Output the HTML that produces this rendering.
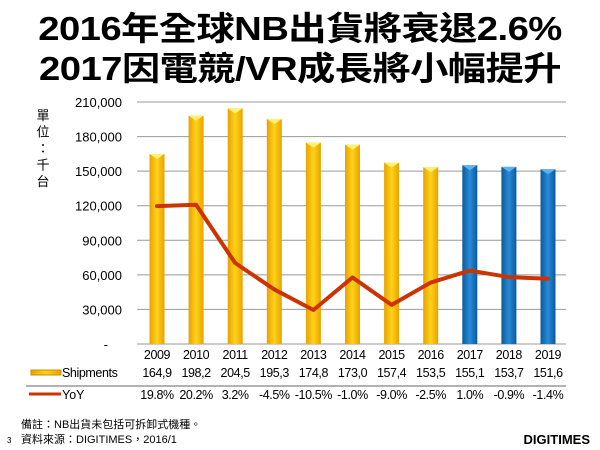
<!DOCTYPE html>
<html><head><meta charset="utf-8"><style>
body{margin:0;width:600px;height:450px;background:#fff;overflow:hidden;font-family:"Liberation Sans","Noto Sans CJK TC",sans-serif}
.t{position:absolute;left:0;width:600px;text-align:center;font-weight:bold;font-size:33px;color:#000;letter-spacing:-0.5px;transform:scaleX(1.16);transform-origin:300px 0}
</style></head><body>
<div class="t" style="top:2px">2016年全球NB出貨將衰退2.6%</div>
<div class="t" style="top:42px">2017因電競/VR成長將小幅提升</div>
<svg id="c" width="600" height="450" style="position:absolute;left:0;top:0" font-family="Liberation Sans, Noto Sans CJK TC, sans-serif"></svg>
<script>
const years=["2009","2010","2011","2012","2013","2014","2015","2016","2017","2018","2019"];
const shipments=[164.9,198.2,204.5,195.3,174.8,173.0,157.4,153.5,155.1,153.7,151.6];
const shipLabels=["164,9","198,2","204,5","195,3","174,8","173,0","157,4","153,5","155,1","153,7","151,6"];
const yoy=[19.8,20.2,3.2,-4.5,-10.5,-1.0,-9.0,-2.5,1.0,-0.9,-1.4];
const yoyLabels=["19.8%","20.2%","3.2%","-4.5%","-10.5%","-1.0%","-9.0%","-2.5%","1.0%","-0.9%","-1.4%"];
const yTicks=[0,30000,60000,90000,120000,150000,180000,210000];
const yTickLabels=["-","30,000","60,000","90,000","120,000","150,000","180,000","210,000"];
const forecastFrom=8;
const svg=document.getElementById('c');const NS='http://www.w3.org/2000/svg';
function mk(t,a,p){const e=document.createElementNS(NS,t);for(const k in a)e.setAttribute(k,a[k]);(p||svg).appendChild(e);return e;}
const x=i=>157+i*39.1;
const y=v=>344-v/210000*242;
const y2=p=>274-p*3.43;
const defs=mk('defs',{});
const g1=mk('linearGradient',{id:'gy'},defs);mk('stop',{offset:'0','stop-color':'#e8a200'},g1);mk('stop',{offset:'0.5','stop-color':'#ffd21a'},g1);mk('stop',{offset:'1','stop-color':'#e8a200'},g1);
const g2=mk('linearGradient',{id:'gb'},defs);mk('stop',{offset:'0','stop-color':'#0a5a9c'},g2);mk('stop',{offset:'0.5','stop-color':'#2a8ad6'},g2);mk('stop',{offset:'1','stop-color':'#0a5a9c'},g2);
yTicks.forEach((v,i)=>{
 if(v>0){const l=mk('line',{x1:137,x2:566,y1:y(v),y2:y(v),stroke:'#999','stroke-width':1});
 
 }
 const t=mk('text',{x:i==0?108:122,y:y(v)+5,'text-anchor':'end','font-size':13});t.textContent=yTickLabels[i];
 
 
});
mk('line',{x1:137,x2:566,y1:344,y2:344,stroke:'#999'});
const ut=mk('text',{x:43,y:118,'font-size':13,'text-anchor':'middle'});


["單","位","：","千","台"].forEach((c,i)=>{const s=mk('tspan',{x:43,y:120+i*16.5},ut);s.textContent=c;});
shipments.forEach((v,i)=>{
 const b=mk('rect',{x:x(i)-7.5,y:y(v*1000),width:15,height:344-y(v*1000),fill:i>=forecastFrom?'url(#gb)':'url(#gy)'});
 
 
 mk('polygon',{points:`${x(i)-7.5},${y(v*1000)} ${x(i)+7.5},${y(v*1000)} ${x(i)},${y(v*1000)+5}`,fill:i>=forecastFrom?'#5fb0f0':'#fff176'});
});
const pl=mk('polyline',{points:yoy.map((p,i)=>x(i)+','+y2(p)).join(' '),fill:'none',stroke:'#cc3300','stroke-width':4,'stroke-linejoin':'round','stroke-linecap':'round'});


function row(arr,yy,name){arr.forEach((s,i)=>{const t=mk('text',{x:x(i),y:yy,'text-anchor':'middle','font-size':12.5,'letter-spacing':'-0.4'});t.textContent=s;
 
 });}
row(years,359,'x-tick-label');row(shipLabels,377,'shipments-value');row(yoyLabels,399,'yoy-value');
const lr=mk('rect',{x:31,y:370,width:30,height:5,fill:'url(#gy)',stroke:'#c89000'});


let t=mk('text',{x:62,y:377,'font-size':12.5,'letter-spacing':'-0.4'});t.textContent='Shipments';


mk('line',{x1:26,x2:566,y1:386,y2:386,stroke:'#666'});
const ll=mk('line',{x1:29,x2:61,y1:394,y2:394,stroke:'#cc3300','stroke-width':3});


t=mk('text',{x:62,y:399,'font-size':12.5});t.textContent='YoY';


t=mk('text',{x:21,y:428,'font-size':11});t.textContent='備註：NB出貨未包括可拆卸式機種。';


t=mk('text',{x:21,y:443,'font-size':11});t.textContent='資料來源：DIGITIMES，2016/1';


t=mk('text',{x:7,y:443,'font-size':8});t.textContent='3';


t=mk('text',{x:590,y:444,'font-size':13,'font-weight':'bold','text-anchor':'end'});t.textContent='DIGITIMES';


</script>
</body></html>
